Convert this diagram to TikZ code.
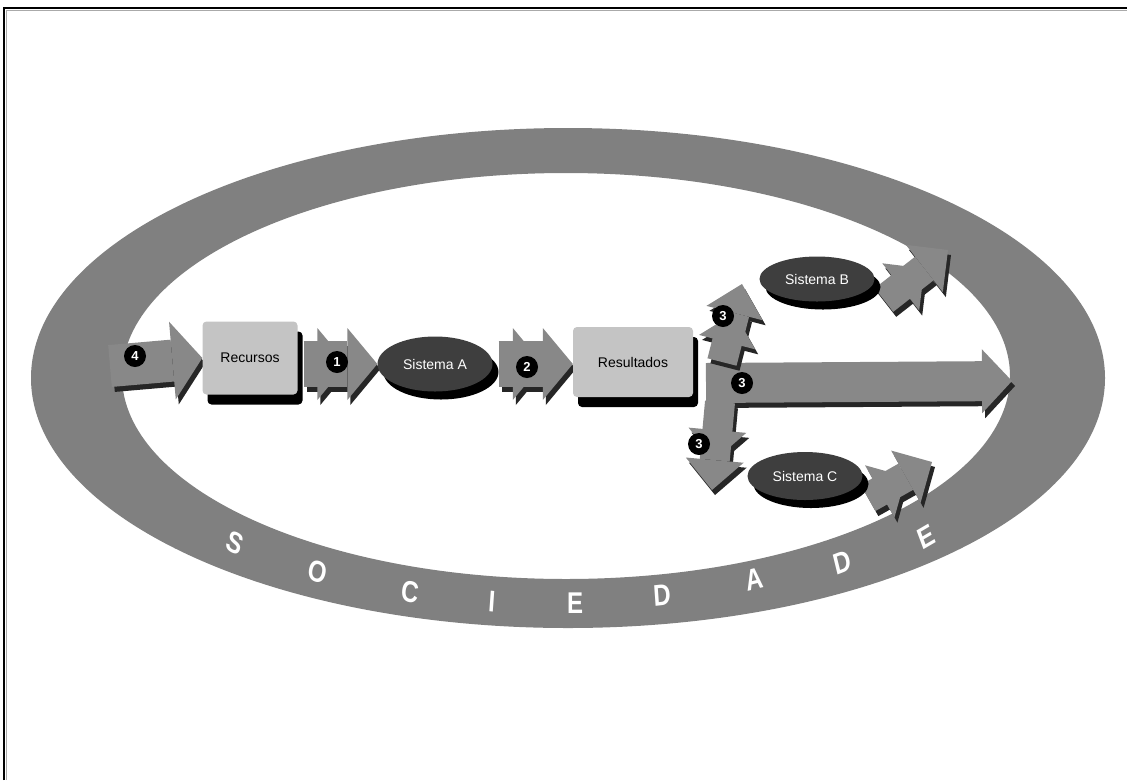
\documentclass[tikz,border=0pt]{standalone}
\usepackage{fontspec}
\setmainfont{Liberation Sans}
\usetikzlibrary{arrows.meta,shapes.geometric,shadows,calc}
\definecolor{ringgray}{RGB}{128,128,128}
\definecolor{arrgray}{RGB}{136,136,136}
\definecolor{boxgray}{RGB}{196,196,196}
\definecolor{ellgray}{RGB}{62,62,62}
\definecolor{framegray}{RGB}{170,170,170}
\pgfdeclarelayer{back}
\pgfdeclarelayer{mid}
\pgfsetlayers{back,mid,main}
\begin{document}
\begin{tikzpicture}[x=1pt,y=-1pt,
  boxnode/.style={rectangle, rounded corners=4pt, fill=boxgray, inner sep=0pt,
    font=\fontsize{14}{16}\selectfont,
    drop shadow={shadow xshift=5pt, shadow yshift=-10pt, opacity=1, fill=black}},
  sysnode/.style={ellipse, fill=ellgray, text=white, inner sep=0pt,
    font=\fontsize{14}{16}\selectfont,
    drop shadow={shadow xshift=6pt, shadow yshift=-8pt, opacity=1, fill=black}},
  num/.style={circle, fill=black, text=white, inner sep=0pt, minimum size=22pt,
    font=\bfseries\fontsize{13}{13}\selectfont},
  fat/.style={draw=arrgray, line width=#1,
    preaction={draw=black!85, line width=#1, transform canvas={shift={(3pt,-5pt)}}}},
  dbl/.style={-{Triangle[width=#1,length=30pt,line width=0pt]Triangle[width=#1,length=30pt,line width=0pt]}},
  sgl/.style={-{Triangle[width=#1,length=30pt,line width=0pt]}},
  letter/.style={text=white, font=\bfseries\fontsize{30}{30}\selectfont, xscale=.8, inner sep=0pt}
]
\useasboundingbox (0,0) rectangle (1127,780);

% nodes
\node[boxnode, minimum width=95pt, minimum height=73pt] (rec) at (250,358) {Recursos};
\node[sysnode, minimum width=115pt, minimum height=55pt] (sa) at (435,364) {Sistema A};
\node[boxnode, minimum width=120pt, minimum height=70pt] (res) at (633,362) {Resultados};
\node[sysnode, minimum width=115pt, minimum height=45pt] (sb) at (817,279) {Sistema B};
\node[sysnode, minimum width=115pt, minimum height=48pt] (sc) at (805,476) {Sistema C};

% free ends
\coordinate (c4) at (110,366);
\coordinate (j) at (706,383);
\coordinate (ju) at (722,362);
\coordinate (jd) at (720,402);
\coordinate (mtip) at (1012,381);
\coordinate (btip) at (742,284);
\coordinate (ctip) at (712,490);
\coordinate (bo) at (884,300);
\coordinate (brt) at (948,250);
\coordinate (co) at (868,498);
\coordinate (crt) at (932,462);

% background, frame and ring
\begin{pgfonlayer}{back}
\fill[white] (0,0) rectangle (1127,780);
\draw[framegray, line width=1pt] (6.5,780) -- (6.5,10.5) -- (1127,10.5);
\draw[black, line width=2.5pt] (4,780) -- (4,8) -- (1127,8);
\fill[ringgray, even odd rule] (568,378) ellipse [x radius=537pt, y radius=250pt]
  (566,376) ellipse [x radius=444pt, y radius=203pt];
\end{pgfonlayer}

% arrows
\begin{pgfonlayer}{mid}
\draw[fat=42pt, sgl=78pt] (c4) -- (rec.west);
\draw[fat=46pt, dbl=72pt] ($(rec.east|-sa.west)+(6,0)$) -- (sa.west);
\draw[fat=46pt, dbl=72pt] ($(sa.east)+(6,0)$) -- (res.west|-sa.east);
\draw[fat=40pt, sgl=64pt] (j) -- (mtip);
\draw[fat=30pt, dbl=58pt] (ju) -- (btip);
\draw[fat=30pt, dbl=58pt] (jd) -- (ctip);
\draw[fat=30pt, dbl=60pt] (bo) -- (brt);
\draw[fat=30pt, dbl=60pt] (co) -- (crt);
\end{pgfonlayer}

% numbers
\node[num] (n4) at (135,356) {4};
\node[num] (n1) at (337,362) {1};
\node[num] (n2) at (527,367) {2};
\node[num] (n3a) at (723,316) {3};
\node[num] (n3b) at (742,383) {3};
\node[num] (n3c) at (699,444) {3};

% SOCIEDADE
\node[letter, rotate=-23] (l1) at (235,543) {S};
\node[letter, rotate=-16] (l2) at (318,572) {O};
\node[letter, rotate=-9] (l3) at (410,592) {C};
\node[letter, rotate=-5] (l4) at (492,602) {I};
\node[letter, rotate=0] (l5) at (575,603) {E};
\node[letter, rotate=5] (l6) at (662,595) {D};
\node[letter, rotate=11] (l7) at (754,579) {A};
\node[letter, rotate=17] (l8) at (842,562) {D};
\node[letter, rotate=25] (l9) at (926,537) {E};
\end{tikzpicture}
\end{document}
